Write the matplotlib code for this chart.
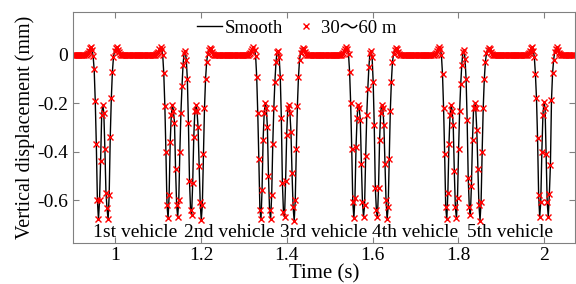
import numpy as np
import matplotlib
matplotlib.use('Agg')
import matplotlib.pyplot as plt

plt.rcParams['font.family'] = ['Liberation Serif', 'Noto Sans CJK SC']
plt.rcParams['axes.unicode_minus'] = False
plt.rcParams['font.size'] = 14

# sampling interval of the 30~60 m record (s)
dt = 0.0025

t1 = 0.9304
v1 = [0.000, 0.004, 0.010, 0.018, 0.028, 0.032, 0.020, -0.005, -0.06, -0.19, -0.37, -0.60,
      -0.68, -0.60, -0.44, -0.25, -0.205, -0.24, -0.39, -0.57, -0.635, -0.68, -0.58, -0.34,
      -0.18, -0.07, -0.01, 0.015, 0.028, 0.032, 0.022, 0.012, 0.005, 0.001]

t2 = 1.0928
v2 = [0.000, 0.002, 0.006, 0.014, 0.024, 0.032, 0.025, 0.000, -0.076, -0.21, -0.40, -0.62,
      -0.676, -0.58, -0.36, -0.25, -0.205, -0.23, -0.28, -0.47, -0.62, -0.67, -0.60, -0.40,
      -0.24, -0.13, -0.04, 0.010, 0.016, -0.02, -0.10, -0.28, -0.52, -0.64, -0.66, -0.53,
      -0.34, -0.23, -0.207, -0.23, -0.30, -0.46, -0.61, -0.683, -0.62, -0.41, -0.22, -0.10,
      -0.03, 0.005, 0.020, 0.028, 0.024, 0.012, 0.004, 0.000]

t3 = 1.3096
v3 = [0.000, 0.003, 0.008, 0.016, 0.026, 0.033, 0.022, -0.004, -0.09, -0.24, -0.43, -0.64,
      -0.68, -0.56, -0.35, -0.24, -0.20, -0.22, -0.30, -0.50, -0.64, -0.68, -0.58, -0.37,
      -0.22, -0.11, -0.03, 0.012, 0.018, -0.01, -0.09, -0.26, -0.53, -0.65, -0.67, -0.52,
      -0.33, -0.22, -0.205, -0.24, -0.32, -0.49, -0.63, -0.685, -0.60, -0.39, -0.21, -0.09,
      -0.02, 0.008, 0.022, 0.030, 0.025, 0.012, 0.004, 0.000]

t4 = 1.5264
v4 = [0.000, 0.002, 0.007, 0.015, 0.025, 0.031, 0.024, 0.002, -0.07, -0.20, -0.39, -0.61,
      -0.675, -0.59, -0.38, -0.26, -0.205, -0.22, -0.27, -0.45, -0.61, -0.67, -0.62, -0.42,
      -0.25, -0.14, -0.05, 0.008, 0.017, -0.01, -0.11, -0.29, -0.55, -0.64, -0.67, -0.55,
      -0.35, -0.24, -0.205, -0.22, -0.29, -0.45, -0.60, -0.68, -0.63, -0.43, -0.23, -0.11,
      -0.03, 0.004, 0.019, 0.028, 0.025, 0.013, 0.005, 0.000]

t5 = 1.7432
v5 = [0.000, 0.003, 0.008, 0.015, 0.026, 0.033, 0.023, -0.002, -0.08, -0.22, -0.41, -0.63,
      -0.68, -0.57, -0.37, -0.25, -0.207, -0.23, -0.29, -0.48, -0.63, -0.675, -0.59, -0.39,
      -0.23, -0.12, -0.04, 0.012, 0.021, -0.015, -0.10, -0.27, -0.51, -0.63, -0.66, -0.54,
      -0.35, -0.22, -0.197, -0.22, -0.31, -0.47, -0.62, -0.685, -0.61, -0.40, -0.22, -0.10,
      -0.03, 0.006, 0.021, 0.029, 0.024, 0.012, 0.004, 0.000]

t6 = 1.9600
v6 = [0.000, 0.003, 0.009, 0.018, 0.027, 0.031, 0.018, -0.01, -0.08, -0.18, -0.345, -0.58,
      -0.67, -0.607, -0.40, -0.248, -0.195, -0.22, -0.41, -0.61, -0.67, -0.575, -0.455, -0.186,
      -0.076, -0.02, 0.012, 0.026, 0.031, 0.022, 0.010, 0.003, 0.000]

groups = [(t1, v1), (t2, v2), (t3, v3), (t4, v4), (t5, v5), (t6, v6)]

labels = ['1st vehicle', '2nd vehicle', '3rd vehicle', '4th vehicle', '5th vehicle']
label_x = [0.947, 1.161, 1.383, 1.599, 1.821]

# flat parts of the record sit at zero
t_grid = np.arange(0.9, 2.0725, dt)
keep = np.ones(len(t_grid), dtype=bool)
ts, vs = [], []
for t0, vals in groups:
    tt = t0 + dt * np.arange(len(vals))
    ts.append(tt)
    vs.append(np.array(vals))
    keep &= ~((t_grid > tt[0] - dt / 2) & (t_grid < tt[-1] + dt / 2))
ts.append(t_grid[keep])
vs.append(np.zeros(keep.sum()))
t = np.concatenate(ts)
v = np.concatenate(vs)
order = np.argsort(t)
t, v = t[order], v[order]

fig = plt.figure(figsize=(5.76, 2.84), dpi=100)
ax = fig.add_axes([0.126, 0.145, 0.872, 0.814])

ax.plot(t, v, color='black', lw=1.0, label='Smooth')
ax.plot(t, v, ls='none', marker='x', color='red', ms=4, mew=1.0, label='30～60 m')

for lab, x in zip(labels, label_x):
    ax.text(x, -0.733, lab, ha='left', va='center', fontsize=14)

ax.set_xlim(0.9, 2.072)
ax.set_ylim(-0.777, 0.179)
ax.set_xticks([1, 1.2, 1.4, 1.6, 1.8, 2])
ax.set_xticklabels(['1', '1.2', '1.4', '1.6', '1.8', '2'])
ax.set_yticks([0, -0.2, -0.4, -0.6])
ax.set_yticklabels(['0', '-0.2', '-0.4', '-0.6'])
ax.tick_params(direction='in', top=True, right=True, length=4, color='#808080',
               labelsize=14, pad=3)
for s in ax.spines.values():
    s.set_color('#808080')
    s.set_linewidth(0.8)

ax.set_xlabel('Time (s)', fontsize=15, labelpad=0)
ax.set_ylabel('Vertical displacement (mm)', fontsize=14.5, labelpad=2)

ax.legend(loc='center', bbox_to_anchor=(0.447, 0.929), ncol=2, frameon=False,
          handlelength=1.3, handletextpad=0.15, columnspacing=0.6, fontsize=13.5,
          borderpad=0.1)

fig.savefig('out.png', dpi=100)
